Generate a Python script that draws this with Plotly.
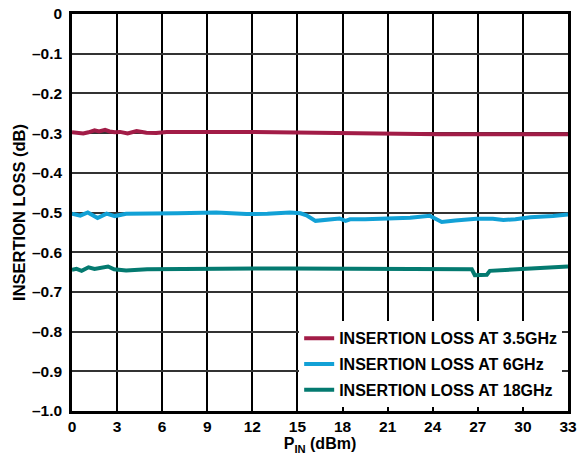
import plotly.graph_objects as go

# P_IN (dBm) sample points and insertion loss (dB)
x_35 = [0, 0.4, 0.75, 1.1, 1.5, 1.8, 2.2, 2.5, 2.85, 3.2, 3.7, 4.3, 4.95, 5.6, 6.3, 7.5, 8.5,
        10, 11.8, 13.5, 15.2, 16.5, 17.8, 19.5, 21.1, 23, 24.5, 27, 30, 33]
y_35 = [-0.298, -0.299, -0.301, -0.298, -0.293, -0.296, -0.292, -0.296, -0.298, -0.297, -0.301,
        -0.295, -0.299, -0.300, -0.297, -0.297, -0.296, -0.297, -0.297, -0.298, -0.299, -0.300,
        -0.301, -0.301, -0.302, -0.302, -0.303, -0.303, -0.303, -0.303]

x_6 = [0, 0.55, 1.05, 1.7, 2.3, 2.85, 3.6, 5, 7, 9.6, 11.6, 13, 14.5, 15.2, 15.6, 16.2, 17,
       17.8, 18.2, 18.5, 19.5, 20.9, 22.5, 23.8, 24.6, 25.5, 26.9, 28, 28.7, 29.5, 30.5, 32, 33]
y_6 = [-0.503, -0.508, -0.500, -0.514, -0.503, -0.509, -0.503, -0.503, -0.502, -0.500, -0.504,
       -0.503, -0.500, -0.502, -0.507, -0.521, -0.518, -0.515, -0.521, -0.517, -0.517, -0.516,
       -0.513, -0.508, -0.524, -0.520, -0.516, -0.516, -0.519, -0.517, -0.512, -0.509, -0.505]

x_18 = [0, 0.3, 0.64, 1.1, 1.5, 1.9, 2.4, 2.8, 3.6, 5, 7, 9, 11, 13, 14.5, 16, 18, 20, 22,
        23.8, 24.3, 26.6, 26.8, 27.6, 27.8, 29, 30.5, 32, 33]
y_18 = [-0.644, -0.642, -0.647, -0.638, -0.642, -0.640, -0.636, -0.643, -0.646, -0.643, -0.642,
        -0.641, -0.641, -0.641, -0.641, -0.641, -0.641, -0.641, -0.641, -0.641, -0.643, -0.643,
        -0.658, -0.657, -0.647, -0.644, -0.641, -0.638, -0.636]

series = [
    ("INSERTION LOSS AT 3.5GHz", x_35, y_35, "#A21C47"),
    ("INSERTION LOSS AT 6GHz", x_6, y_6, "#12A1D6"),
    ("INSERTION LOSS AT 18GHz", x_18, y_18, "#047A70"),
]

x_ticks = list(range(0, 34, 3))
y_ticks = [0, -0.1, -0.2, -0.3, -0.4, -0.5, -0.6, -0.7, -0.8, -0.9, -1.0]
y_labels = ["0", "–0.1", "–0.2", "–0.3", "–0.4", "–0.5", "–0.6", "–0.7", "–0.8", "–0.9", "–1.0"]

FONT = "Liberation Sans, Arial, sans-serif"

fig = go.Figure()
for i, (name, xs, ys, color) in enumerate(series):
    fig.add_trace(go.Scatter(
        x=xs, y=ys, mode="lines", name=name, legendgroup=f"g{i}",
        line=dict(color=color, width=4),
    ))

fig.update_layout(
    width=588, height=457,
    margin=dict(l=72, r=20, t=14, b=46),
    paper_bgcolor="white", plot_bgcolor="white",
    font=dict(family=FONT, size=14, color="black"),
    showlegend=True,
    legend=dict(
        x=0.458, y=0.226, xanchor="left", yanchor="top",
        bgcolor="white", borderwidth=0,
        font=dict(family=FONT, size=16, color="black", weight="bold"),
        itemwidth=30, tracegroupgap=2, traceorder="grouped",
    ),
)

fig.update_xaxes(
    range=[0, 33], tickvals=x_ticks, ticktext=[str(v) for v in x_ticks],
    showgrid=True, gridcolor="black", gridwidth=1.5,
    showline=True, linecolor="black", linewidth=2.5, mirror=True,
    ticks="", zeroline=False, automargin=False,
    tickfont=dict(family=FONT, size=15.5, weight="bold"),
    title=dict(text="<b>P<sub>IN</sub> (dBm)</b>", standoff=2,
               font=dict(family=FONT, size=16)),
)
fig.update_yaxes(
    range=[-1.0, 0], tickvals=y_ticks, ticktext=y_labels,
    showgrid=True, gridcolor="#333333", gridwidth=1.5,
    showline=True, linecolor="black", linewidth=2.5, mirror=True,
    ticks="", zeroline=False, automargin=False, ticklabelstandoff=4,
    tickfont=dict(family=FONT, size=15.5, weight="bold"),
    title=dict(text="<b>INSERTION LOSS (dB)</b>", standoff=3,
               font=dict(family=FONT, size=16.5)),
)

fig.write_html("out.html", config={"displayModeBar": False},
               post_script="document.body.style.margin='0';")
